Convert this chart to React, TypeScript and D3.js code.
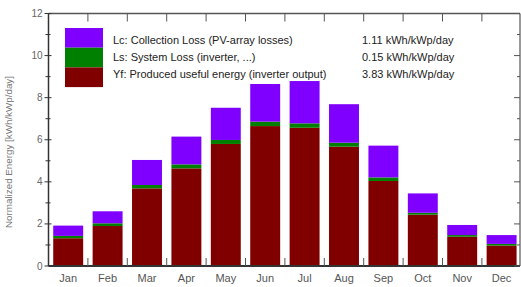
import React from "react";
import * as d3 from "d3";

const months = ["Jan", "Feb", "Mar", "Apr", "May", "Jun", "Jul", "Aug", "Sep", "Oct", "Nov", "Dec"];
const yf = [1.32, 1.9, 3.69, 4.64, 5.8, 6.65, 6.57, 5.67, 4.04, 2.44, 1.39, 0.97];
const ls = [0.11, 0.13, 0.16, 0.19, 0.19, 0.21, 0.21, 0.19, 0.17, 0.09, 0.08, 0.08];
const lc = [0.49, 0.57, 1.19, 1.32, 1.53, 1.79, 2.01, 1.83, 1.51, 0.92, 0.48, 0.42];
const yTicks = [0, 2, 4, 6, 8, 10, 12];
const legendLabels = [
  "Lc: Collection Loss (PV-array losses)",
  "Ls: System Loss  (inverter, ...)",
  "Yf: Produced useful energy  (inverter output)",
];
const legendValues = ["1.11 kWh/kWp/day", "0.15 kWh/kWp/day", "3.83 kWh/kWp/day"];
const colors = ["#8000ff", "#008000", "#800000"];

export default function App() {
  const W = 521, H = 287;
  const left = 48.5, right = 520, top = 13.5, bottom = 266;
  const x = d3.scaleBand<string>().domain(months).range([left, 521.3]).paddingInner(0.24).paddingOuter(0.12);
  const y = d3.scaleLinear().domain([0, 12]).range([bottom, top]);
  const step = x.step();
  const bounds = d3.range(1, 12).map((k) => left + k * step);
  const minor = d3.range(1, 12, 2);
  const font = "Liberation Sans, Arial, sans-serif";

  const stacks = months.map((m, i) => {
    const s = [
      { c: colors[2], y0: 0, y1: yf[i] },
      { c: colors[1], y0: yf[i], y1: yf[i] + ls[i] },
      { c: colors[0], y0: yf[i] + ls[i], y1: yf[i] + ls[i] + lc[i] },
    ];
    return { m, s };
  });

  return (
    <svg width={W} height={H} style={{ position: "absolute", left: 0, top: 0 }} fontFamily={font}>
      <rect width={W} height={H} fill="#fff" />
      {stacks.map(({ m, s }) =>
        s.map((seg, j) => (
          <rect
            key={m + j}
            x={x(m)}
            width={x.bandwidth()}
            y={y(seg.y1)}
            height={y(seg.y0) - y(seg.y1)}
            fill={seg.c}
          />
        ))
      )}
      {/* frame */}
      <line x1={left} x2={right} y1={top} y2={top} stroke="#555" strokeWidth={1.5} />
      <line x1={right} x2={right} y1={top} y2={bottom} stroke="#555" strokeWidth={1.2} />
      <line x1={left} x2={left} y1={top} y2={bottom} stroke="#333" strokeWidth={1.5} />
      <line x1={left} x2={right} y1={bottom} y2={bottom} stroke="#333" strokeWidth={2} />
      {/* band ticks */}
      {bounds.map((b, i) => (
        <g key={"b" + i}>
          <line x1={b} x2={b} y1={top} y2={top + 8} stroke="#555" strokeWidth={1} />
          <line x1={b} x2={b} y1={bottom} y2={bottom - 8} stroke="#555" strokeWidth={1} />
        </g>
      ))}
      {/* y ticks */}
      {yTicks.map((t) => (
        <g key={"y" + t}>
          <line x1={left - 4} x2={left + 3} y1={y(t)} y2={y(t)} stroke="#333" strokeWidth={1} />
          <line x1={right - 6} x2={right} y1={y(t)} y2={y(t)} stroke="#555" strokeWidth={1} />
          <text x={left - 6} y={y(t)} dy="0.35em" textAnchor="end" fontSize={10} fill="#666">
            {t}
          </text>
        </g>
      ))}
      {minor.map((t) => (
        <g key={"m" + t}>
          <line x1={left - 3} x2={left + 2} y1={y(t)} y2={y(t)} stroke="#333" strokeWidth={1} />
          <line x1={right - 3} x2={right} y1={y(t)} y2={y(t)} stroke="#555" strokeWidth={1} />
        </g>
      ))}
      {months.map((m) => (
        <text key={"t" + m} x={(x(m) as number) + x.bandwidth() / 2} y={278} dy="0.35em" textAnchor="middle" fontSize={11} fill="#555">
          {m}
        </text>
      ))}
      <text transform={`translate(9,${152}) rotate(-90)`} textAnchor="middle" dy="0.35em" fontSize={9.8} fill="#777">
        Normalized Energy [kWh/kWp/day]
      </text>
      {/* legend */}
      {colors.map((c, i) => (
        <rect key={"l" + i} x={65} y={28 + i * 19.7} width={38} height={19.7} fill={c} />
      ))}
      {legendLabels.map((l, i) => (
        <g key={"lt" + i}>
          <text x={113} y={40 + i * 17} dy="0.35em" fontSize={11} fill="#222">
            {l}
          </text>
          <text x={362} y={40 + i * 17} dy="0.35em" fontSize={11} fill="#222">
            {legendValues[i]}
          </text>
        </g>
      ))}
    </svg>
  );
}
